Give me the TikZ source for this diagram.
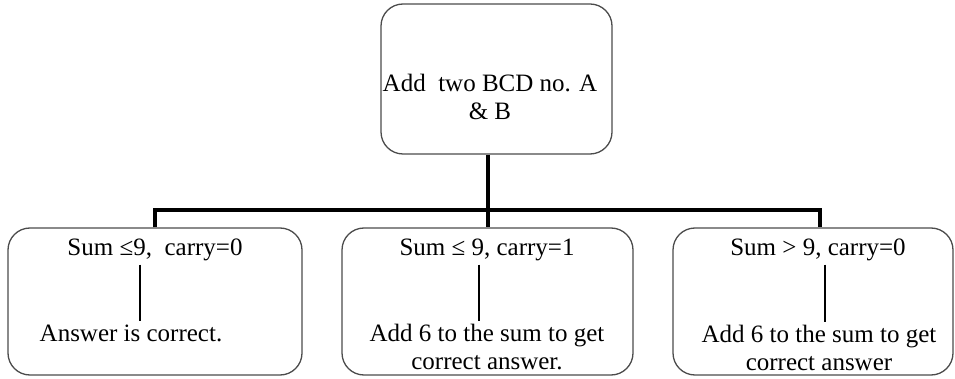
\documentclass[tikz,border=0pt]{standalone}
\usepackage{fontspec}
\setmainfont{Liberation Serif}
\usetikzlibrary{positioning}
\tikzset{
  box/.style={draw=black!70, line width=1.3pt, rounded corners=22pt},
  bus/.style={line width=4pt},
  link/.style={line width=1.4pt},
}
\begin{document}
\begin{tikzpicture}[x=1pt,y=-1pt,font=\fontsize{25}{28}\selectfont]
\useasboundingbox (0,0) rectangle (955,379);
% the three cases hang below the adder
\node [box, minimum width=231pt, minimum height=150pt] (top) at (496.5,79) {};
\node [box, minimum width=294pt, minimum height=147pt] (left) at (155,301.5) {};
\node [box, minimum width=291pt, minimum height=147pt] (mid) at (487.5,301.5) {};
\node [box, minimum width=280pt, minimum height=147pt] (right) at (813,301.5) {};
\node [align=center] (add) at (490,97) {Add\ \ two BCD no. A\\\& B};
\coordinate (j) at (487,210);
\draw [bus] (top.south -| mid.north) -- (mid.north);
\draw [bus] (left.north) |- (j) -| ([xshift=7pt]right.north);
% conditions and what to do
\node (c1) at (155,250) {Sum ≤9,\ \ carry=0};
\node (c2) at (487,250) {Sum ≤ 9, carry=1};
\node (c3) at (818,250) {Sum > 9, carry=0};
\node (r1) at (131,333) {Answer is correct.};
\node [align=center] (r2) at (487,347) {Add 6 to the sum to get\\correct answer.};
\node [align=center] (r3) at (819,348) {Add 6 to the sum to get\\correct answer};
\draw [link] ([xshift=-15pt]c1.south) -- ([xshift=-15pt]c1.south |- r1.north);
\draw [link] ([xshift=-8pt]c2.south) -- ([xshift=-8pt]c2.south |- r2.north);
\draw [link] ([xshift=7pt]c3.south) -- ([xshift=7pt]c3.south |- r3.north);
\end{tikzpicture}
\end{document}
